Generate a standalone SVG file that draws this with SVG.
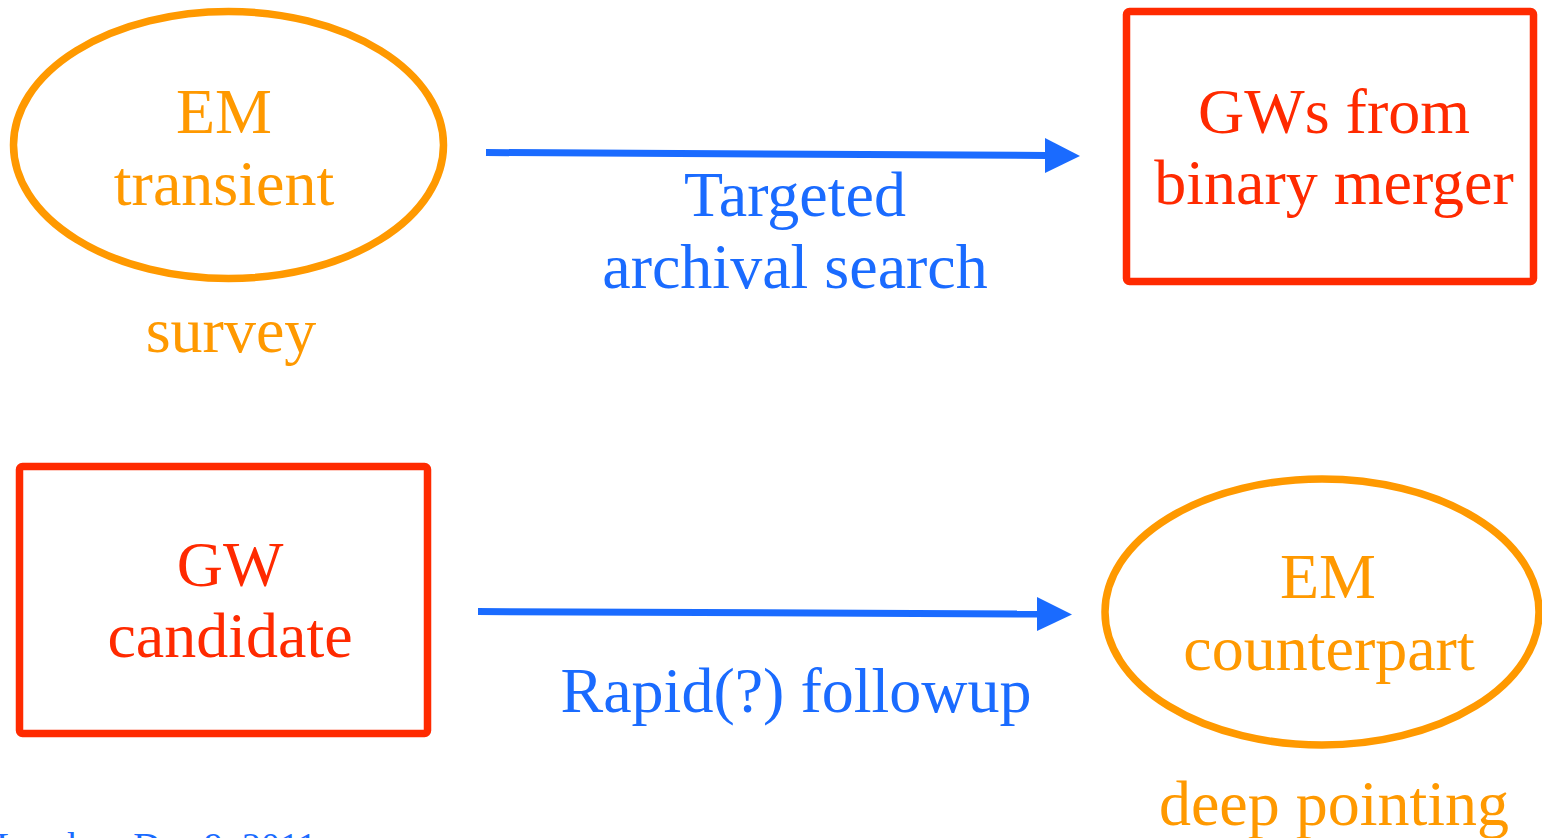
<svg xmlns="http://www.w3.org/2000/svg" width="1542" height="838" viewBox="0 0 1542 838">
  <style>
    .t { font-family: "Liberation Serif", "Times New Roman", serif; font-size: 64px; text-anchor: middle; }
    .orange { fill: #ff9900; }
    .red { fill: #ff2a00; }
    .blue { fill: #1a6bff; }
    .oval { fill: none; stroke: #ff9900; stroke-width: 7.5; }
    .box { fill: none; stroke: #ff2a00; stroke-width: 7.5; }
    .link { fill: none; stroke: #1a6bff; stroke-width: 7; }
    .head { fill: #1a6bff; }
  </style>

  <rect width="1542" height="838" fill="#ffffff"/>

  <!-- EM transient (survey) -->
  <g id="em-transient">
    <ellipse class="oval" cx="228.5" cy="145" rx="215" ry="133.5"/>
    <text class="t orange" x="224" y="133">EM</text>
    <text class="t orange" x="224" y="205">transient</text>
    <text class="t orange" x="231" y="352">survey</text>
  </g>

  <!-- GWs from binary merger -->
  <g id="gw-binary-merger">
    <rect class="box" x="1126.5" y="11.5" width="407" height="270" rx="3"/>
    <text class="t red" x="1334" y="133">GWs from</text>
    <text class="t red" x="1334" y="204">binary merger</text>
  </g>

  <!-- GW candidate -->
  <g id="gw-candidate">
    <rect class="box" x="19.5" y="466.5" width="408" height="267" rx="3"/>
    <text class="t red" x="230" y="586">GW</text>
    <text class="t red" x="230" y="657">candidate</text>
  </g>

  <!-- EM counterpart (deep pointing) -->
  <g id="em-counterpart">
    <ellipse class="oval" cx="1322" cy="612" rx="217" ry="133"/>
    <text class="t orange" x="1328" y="598">EM</text>
    <text class="t orange" x="1329" y="670">counterpart</text>
    <text class="t orange" x="1334" y="825">deep pointing</text>
  </g>

  <!-- connectors -->
  <g id="connectors">
    <g id="targeted-archival-search">
      <line class="link" x1="486" y1="152.5" x2="1047" y2="155.5"/>
      <polygon class="head" points="1045,138 1080,156 1045,173"/>
      <text class="t blue" x="795" y="216">Targeted</text>
      <text class="t blue" x="795" y="288">archival search</text>
    </g>
    <g id="rapid-followup">
      <line class="link" x1="478" y1="611.5" x2="1039" y2="614"/>
      <polygon class="head" points="1037,597 1072,614.5 1037,631"/>
      <text class="t blue" x="796" y="712">Rapid(?) followup</text>
    </g>
  </g>

  <!-- footer, running off the bottom edge -->
  <text x="-4" y="859" font-family="Liberation Serif, Times New Roman, serif" font-size="38" fill="#1a6bff">London, Dec 9, 2011</text>
</svg>
